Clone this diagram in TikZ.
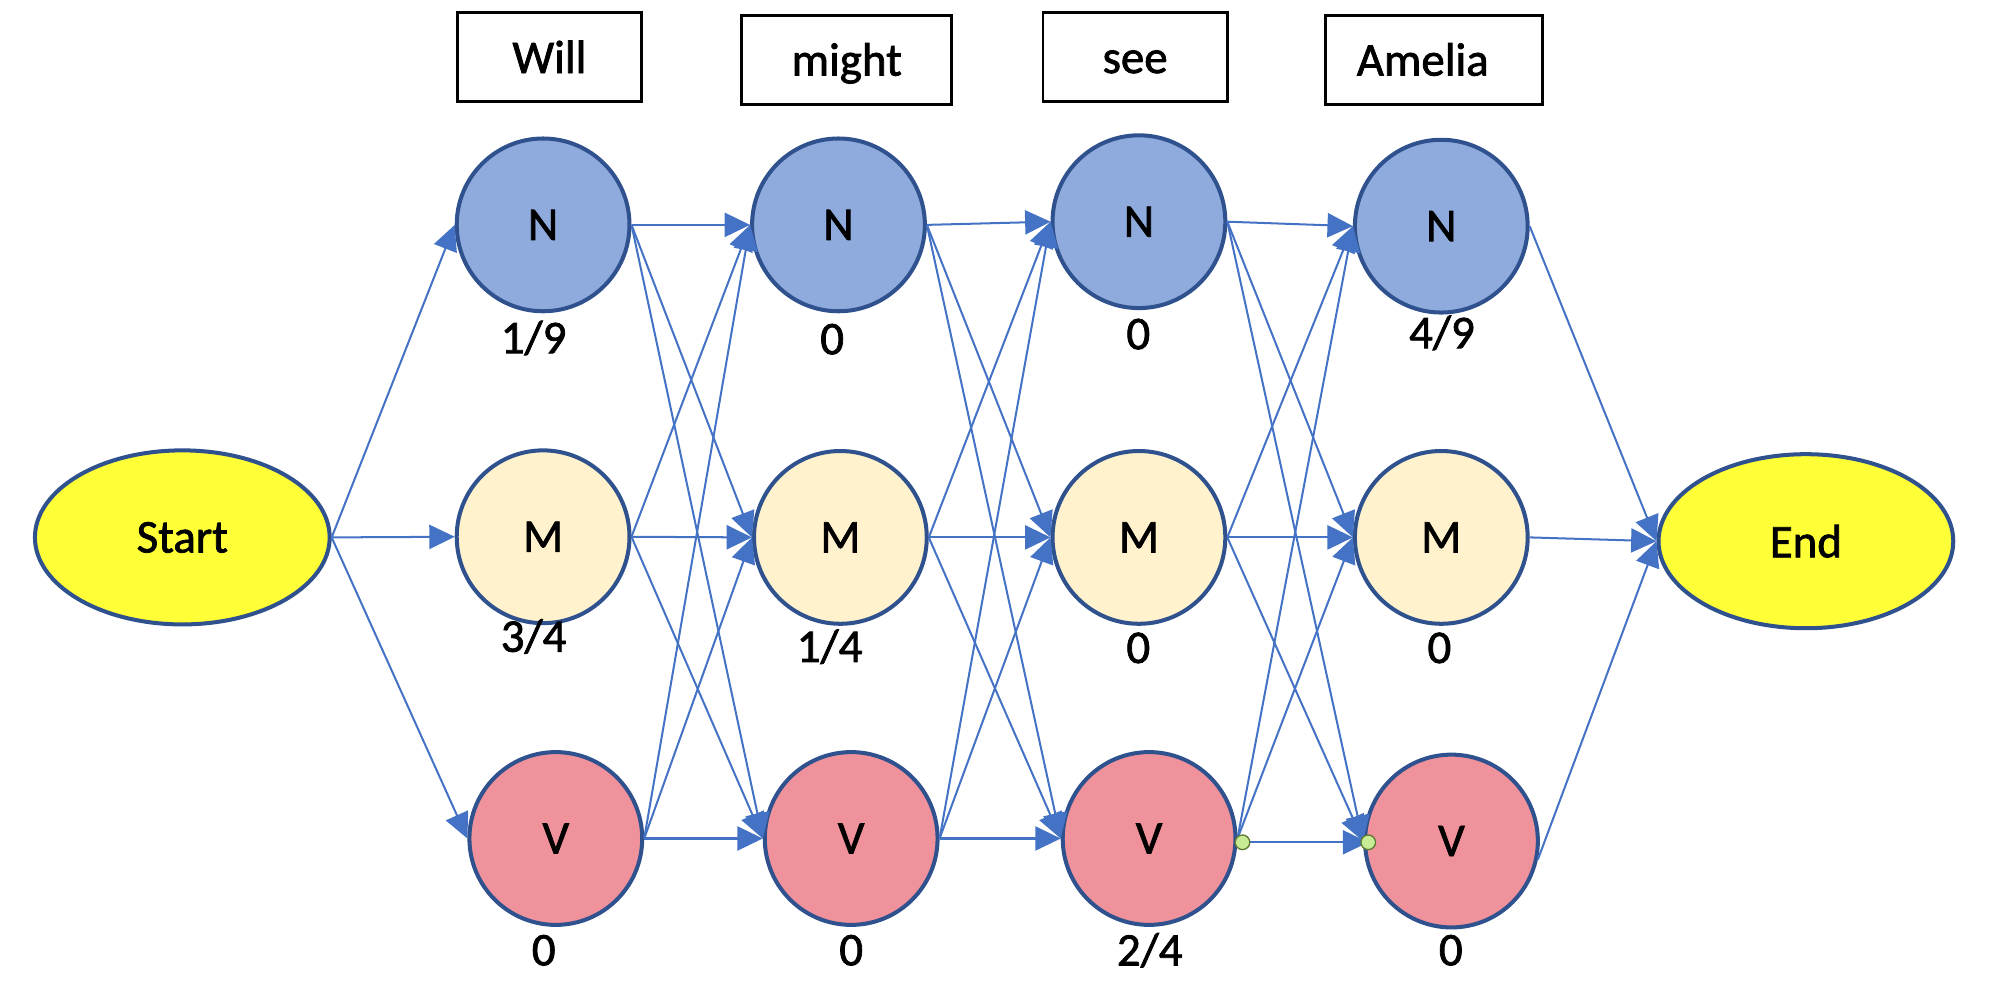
\documentclass[tikz,border=0pt]{standalone}
\usepackage{fontspec}
\setmainfont{Carlito}[FakeBold=1.6]
\usetikzlibrary{arrows.meta,shapes.geometric}

\definecolor{nblue}{HTML}{8FAADC}
\definecolor{mcream}{HTML}{FFF2CC}
\definecolor{vpink}{HTML}{F0929B}
\definecolor{rim}{HTML}{2F528F}
\definecolor{link}{HTML}{4472C4}
\definecolor{sunny}{HTML}{FFFF38}
\definecolor{grip}{HTML}{C8EC96}
\definecolor{griprim}{HTML}{5E7A32}

\begin{document}
\begin{tikzpicture}[
    font=\fontsize{10.5}{12}\selectfont,
    >={Triangle[length=0.20cm,width=0.19cm]},
    tag/.style={circle,draw=rim,line width=0.9pt,minimum size=1.36cm,inner sep=0pt},
    ends/.style={ellipse,draw=rim,line width=0.9pt,fill=sunny,minimum width=2.32cm,minimum height=1.37cm},
    word/.style={draw,line width=0.65pt,minimum height=0.70cm,text height=0.25cm,text depth=0pt},
    hop/.style={every edge/.append style={->,link,line width=0.45pt}},
    grab/.style={circle,draw=griprim,fill=grip,line width=0.3pt,minimum size=0.115cm,inner sep=0pt}
  ]
    \useasboundingbox (0,0) rectangle (15.68,-7.90);

    % words
    \node[word,minimum width=1.45cm] (w1) at (4.325,-0.45) {Will};
    \node[word,minimum width=1.65cm] (w2) at (6.665,-0.47) {might};
    \node[word,minimum width=1.45cm] (w3) at (8.935,-0.45) {see};
    \node[word,text width=1.21cm,inner xsep=0.25cm,align=left] (w4) at (11.285,-0.47) {Amelia};

    % start and end
    \node[ends] (start) at (1.435,-4.23) {Start};
    \node[ends] (end) at (14.215,-4.26) {End};

    % tag states
    \node[tag,fill=nblue] (N1) at (4.275,-1.77) {N};
    \node[tag,fill=mcream] (M1) at (4.275,-4.225) {M};
    \node[tag,fill=vpink] (V1) at (4.375,-6.60) {V};

    \node[tag,fill=nblue] (N2) at (6.60,-1.77) {N};
    \node[tag,fill=mcream] (M2) at (6.615,-4.23) {M};
    \node[tag,fill=vpink] (V2) at (6.70,-6.60) {V};

    \node[tag,fill=nblue] (N3) at (8.965,-1.745) {N};
    \node[tag,fill=mcream] (M3) at (8.965,-4.23) {M};
    \node[tag,fill=vpink] (V3) at (9.045,-6.60) {V};

    \node[tag,fill=nblue] (N4) at (11.345,-1.78) {N};
    \node[tag,fill=mcream] (M4) at (11.345,-4.23) {M};
    \node[tag,fill=vpink] (V4) at (11.425,-6.62) {V};

    % probabilities
    \node (pN1) at (4.20,-2.66) {1/9};
    \node (pM1) at (4.20,-5.01) {3/4};
    \node (pV1) at (4.28,-7.48) {0};
    \node (pN2) at (6.55,-2.67) {0};
    \node (pM2) at (6.53,-5.09) {1/4};
    \node (pV2) at (6.70,-7.48) {0};
    \node (pN3) at (8.96,-2.63) {0};
    \node (pM3) at (8.96,-5.10) {0};
    \node (pV3) at (9.05,-7.48) {2/4};
    \node (pN4) at (11.35,-2.62) {4/9};
    \node (pM4) at (11.33,-5.10) {0};
    \node (pV4) at (11.42,-7.48) {0};

    \coordinate (gA) at (9.78,-6.63);
    \coordinate (gB) at (10.77,-6.63);

    \path[hop]
        (start.east) edge (N1.west)
        (start.east) edge (M1.west)
        (start.east) edge (V1.west)
        % Will -> might
        (N1.east) edge (N2.west)
        (N1.east) edge (M2.west)
        (N1.east) edge (V2.west)
        (M1.east) edge (N2.west)
        (M1.east) edge (M2.west)
        (M1.east) edge (V2.west)
        (V1.east) edge (N2.west)
        (V1.east) edge (M2.west)
        (V1.east) edge (V2.west)
        % might -> see
        (N2.east) edge (N3.west)
        (N2.east) edge (M3.west)
        (N2.east) edge (V3.west)
        (M2.east) edge (N3.west)
        (M2.east) edge (M3.west)
        (M2.east) edge (V3.west)
        (V2.east) edge (N3.west)
        (V2.east) edge (M3.west)
        (V2.east) edge (V3.west)
        % see -> Amelia
        (N3.east) edge (N4.west)
        (N3.east) edge (M4.west)
        (N3.east) edge (V4.west)
        (M3.east) edge (N4.west)
        (M3.east) edge (M4.west)
        (M3.east) edge (V4.west)
        (V3.east) edge (N4.west)
        (V3.east) edge (M4.west)
        (gA) edge (gB)
        % to end
        (N4.east) edge (end.west)
        (M4.east) edge (end.west)
        (V4.-12) edge (end.west);

    \node[grab] (dotA) at (gA) {};
    \node[grab] (dotB) at (gB) {};
\end{tikzpicture}
\end{document}
